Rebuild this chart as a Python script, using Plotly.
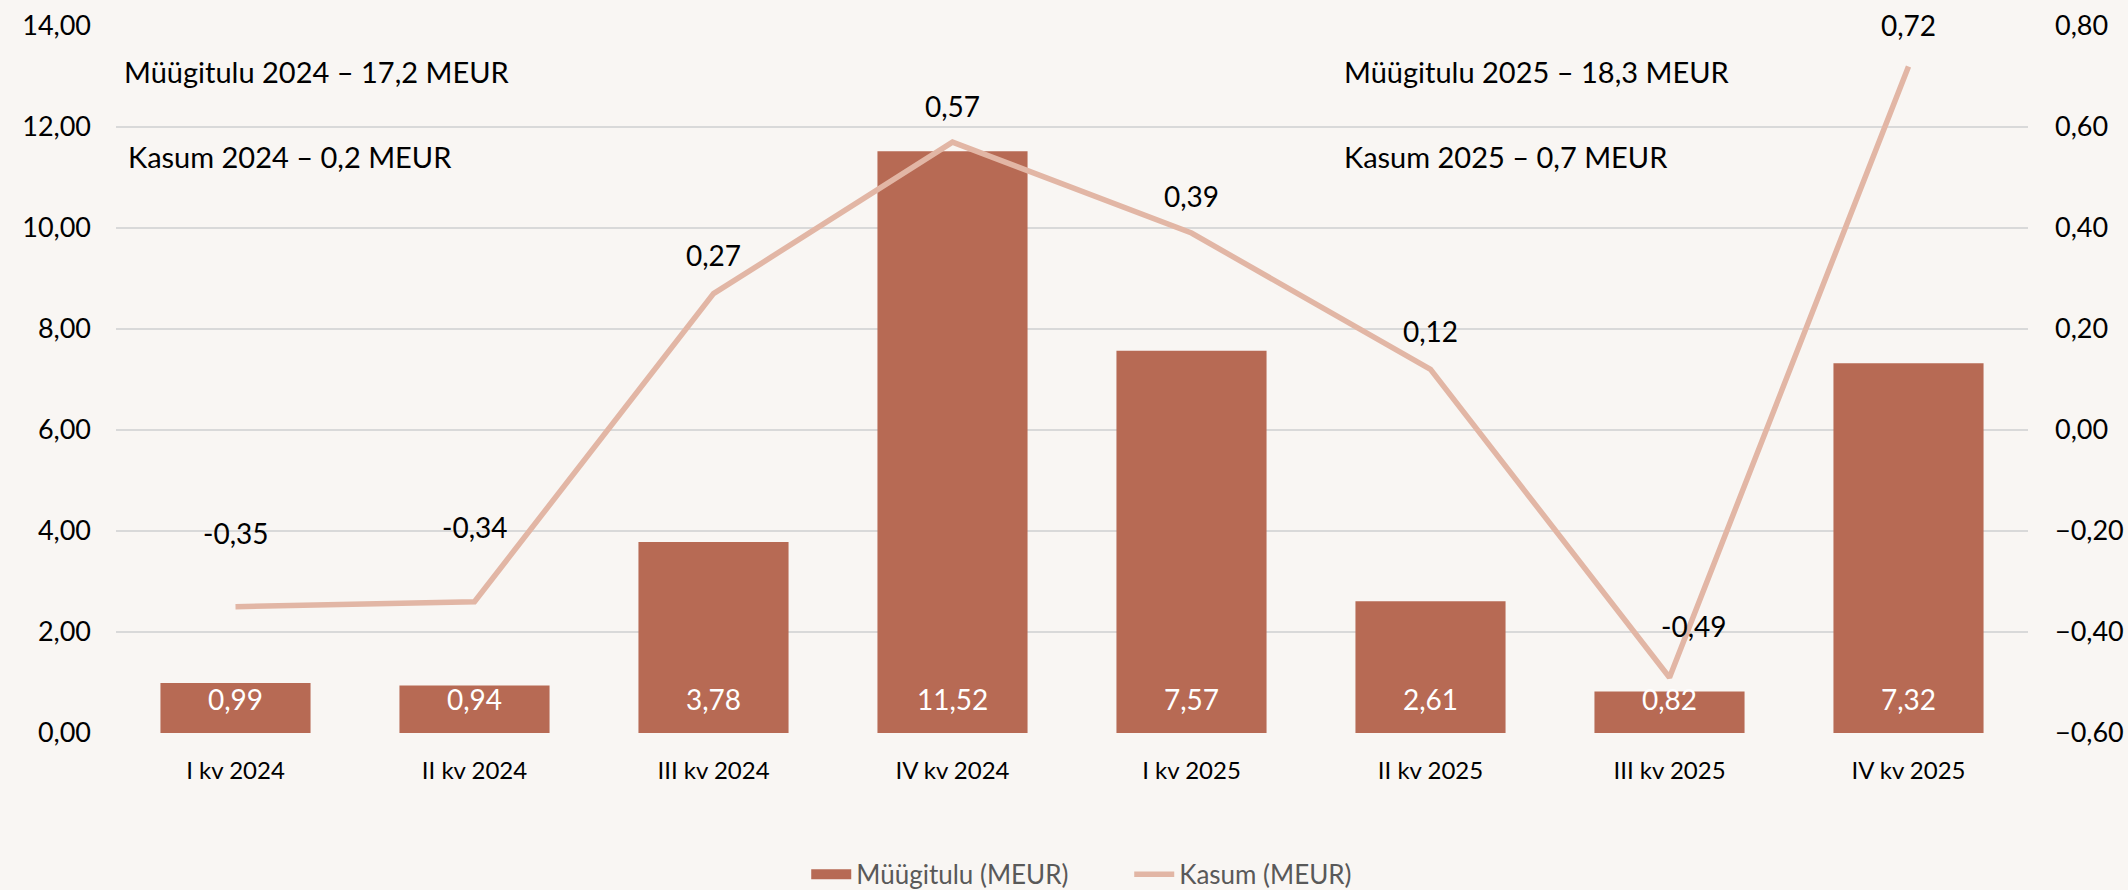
import plotly.graph_objects as go

categories = ["I kv 2024", "II kv 2024", "III kv 2024", "IV kv 2024",
              "I kv 2025", "II kv 2025", "III kv 2025", "IV kv 2025"]
sales = [0.99, 0.94, 3.78, 11.52, 7.57, 2.61, 0.82, 7.32]
profit = [-0.35, -0.34, 0.27, 0.57, 0.39, 0.12, -0.49, 0.72]
notes = ["Müügitulu 2024 – 17,2 MEUR", "Kasum 2024 – 0,2 MEUR",
         "Müügitulu 2025 – 18,3 MEUR", "Kasum 2025 – 0,7 MEUR"]

# label styling (offsets in px)
profit_label_yshift = [55, 56, 20, 17, 18, 19, 32, 22]
profit_label_xshift = [0, 0, 0, 0, 0, 0, 24, 0]

FONT = "Lato, 'Open Sans', sans-serif"
BAR = "#B76A54"
LINE = "#E2B6A5"
BG = "#F9F6F3"

def fmt(v):
    return f"{v:.2f}".replace(".", ",")

fig = go.Figure()
fig.add_trace(go.Bar(x=categories, y=sales, name="Müügitulu (MEUR)",
                     marker=dict(color=BAR, line=dict(width=0)),
                     width=0.628, yaxis="y", showlegend=False))
# legend-only entry giving a wide rectangular swatch for the bars
fig.add_trace(go.Scatter(x=[None], y=[None], name="Müügitulu (MEUR)",
                         mode="lines", line=dict(color=BAR, width=16), yaxis="y"))
fig.add_trace(go.Scatter(x=categories, y=profit, name="Kasum (MEUR)",
                         mode="lines", line=dict(color=LINE, width=5.5),
                         yaxis="y2"))

annotations = []
for c, v in zip(categories, sales):
    annotations.append(dict(x=c, y=0, xref="x", yref="y", text=fmt(v),
                            showarrow=False, yanchor="bottom", yshift=15,
                            font=dict(family=FONT, size=28, color="white")))
for c, v, ys, xs in zip(categories, profit, profit_label_yshift, profit_label_xshift):
    annotations.append(dict(x=c, y=v, xref="x", yref="y2", text=fmt(v),
                            showarrow=False, yanchor="bottom", yshift=ys, xshift=xs,
                            font=dict(family=FONT, size=28, color="black")))
note_pos = [(0.003, 0.936), (0.005, 0.816), (0.641, 0.936), (0.641, 0.816)]
for t, (px, py) in zip(notes, note_pos):
    annotations.append(dict(x=px, y=py, xref="paper", yref="paper", text=t,
                            showarrow=False, xanchor="left", yanchor="middle",
                            font=dict(family=FONT, size=29, color="black")))

fig.update_layout(
    width=2128, height=890,
    paper_bgcolor=BG, plot_bgcolor=BG,
    margin=dict(l=116, r=100, t=26, b=157, autoexpand=False),
    separators=", ",
    font=dict(family=FONT, color="black"),
    bargap=0.372,
    xaxis=dict(showgrid=False, showline=False, ticks="", zeroline=False, automargin=False,
               tickfont=dict(size=24, color="black"), ticklabelstandoff=21),
    yaxis=dict(range=[0, 14], dtick=2, tickformat=".2f", showgrid=True, automargin=False,
               gridcolor="#D9D9D9", gridwidth=2, zeroline=False, showline=False,
               tickfont=dict(size=27, color="black"), ticklabelstandoff=24),
    yaxis2=dict(range=[-0.6, 0.8], dtick=0.2, tickformat=".2f", overlaying="y", automargin=False,
                side="right", showgrid=False, zeroline=False, showline=False,
                tickfont=dict(size=27, color="black"), ticklabelstandoff=26),
    legend=dict(orientation="h", x=0.361, xanchor="left", y=-0.2, yanchor="middle",
                font=dict(family=FONT, size=26, color="#595959"),
                bgcolor="rgba(0,0,0,0)", itemwidth=40, entrywidth=268),
    annotations=annotations,
)

fig.write_html("out.html", config={"displayModeBar": False},
               post_script="document.body.style.margin='0';document.body.style.background='%s';" % BG)
